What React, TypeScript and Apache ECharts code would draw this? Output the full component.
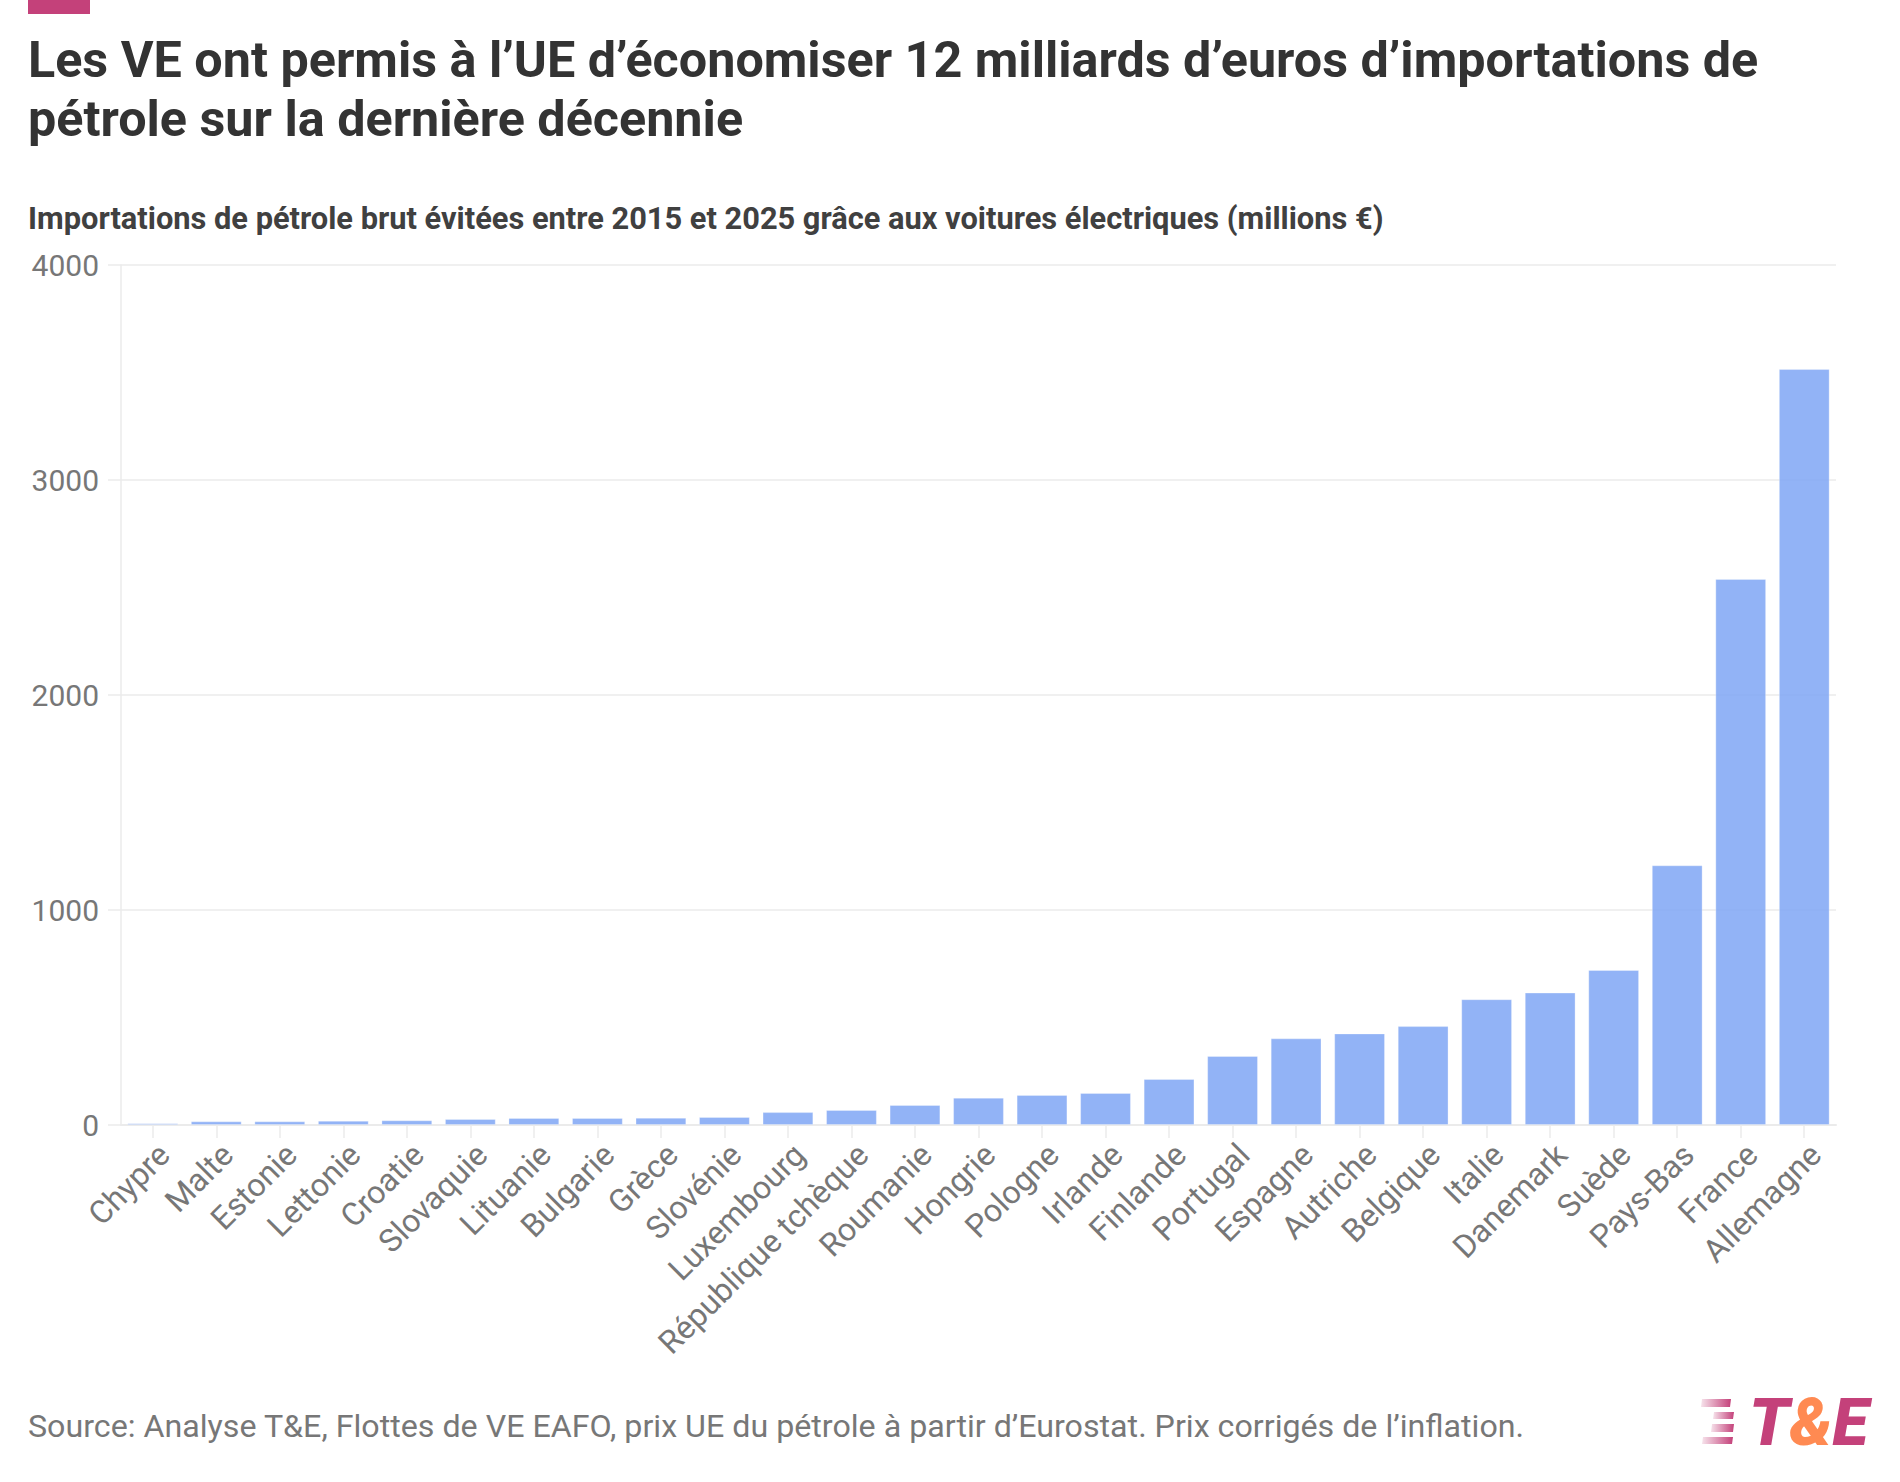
import React, { useEffect, useRef } from "react";
import * as echarts from "echarts";

const categories = [
  "Chypre", "Malte", "Estonie", "Lettonie", "Croatie", "Slovaquie", "Lituanie",
  "Bulgarie", "Grèce", "Slovénie", "Luxembourg", "République tchèque", "Roumanie",
  "Hongrie", "Pologne", "Irlande", "Finlande", "Portugal", "Espagne", "Autriche",
  "Belgique", "Italie", "Danemark", "Suède", "Pays-Bas", "France", "Allemagne",
];
const values = [
  8, 17, 17, 20, 22, 28, 33, 33, 34, 37, 60, 70, 93, 127, 140, 149, 214, 321,
  403, 426, 460, 585, 616, 721, 1208, 2540, 3516,
];
const yTicks = { min: 0, max: 4000, interval: 1000 };

const titleLines = [
  "Les VE ont permis à l’UE d’économiser 12 milliards d’euros d’importations de",
  "pétrole sur la dernière décennie",
];
const subtitle =
  "Importations de pétrole brut évitées entre 2015 et 2025 grâce aux voitures électriques (millions €)";
const source =
  "Source: Analyse T&E, Flottes de VE EAFO, prix UE du pétrole à partir d’Eurostat. Prix corrigés de l’inflation.";

const PINK = "#c4417a";
const ORANGE = "#ff8a52";
const GRID = "#ebebeb";
const LABEL = "#777777";

function stripe(pts: number[][]) {
  return {
    type: "polygon",
    shape: { points: pts },
    style: {
      fill: {
        type: "linear",
        x: 0, y: 0, x2: 1, y2: 0,
        colorStops: [
          { offset: 0, color: "rgba(196,65,122,0.15)" },
          { offset: 1, color: PINK },
        ],
      },
    },
  };
}

export default function App() {
  const ref = useRef<HTMLDivElement>(null);
  useEffect(() => {
    document.body.style.margin = "0";
    if (!ref.current) return;
    const chart = echarts.init(ref.current, undefined, { renderer: "svg" });
    chart.setOption({
      animation: false,
      backgroundColor: "#ffffff",
      grid: { left: 121, right: 64, top: 265, bottom: 357, containLabel: false },
      xAxis: {
        type: "category",
        data: categories,
        axisLine: { show: true, lineStyle: { color: GRID, width: 2 } },
        axisTick: { show: true, alignWithLabel: true, length: 13, lineStyle: { color: GRID, width: 1.5 } },
        axisLabel: {
          interval: 0,
          rotate: 45,
          margin: 13,
          verticalAlign: "top",
          color: LABEL,
          fontFamily: "Roboto",
          fontSize: 32,
        },
      },
      yAxis: {
        type: "value",
        min: yTicks.min,
        max: yTicks.max,
        interval: yTicks.interval,
        axisLine: { show: true, lineStyle: { color: GRID, width: 1.5 } },
        axisTick: { show: true, length: 13, lineStyle: { color: GRID, width: 1.5 } },
        splitLine: { show: true, lineStyle: { color: GRID, width: 1.5 } },
        axisLabel: {
          margin: 22,
          color: LABEL,
          fontFamily: "Roboto",
          fontSize: 30,
          formatter: (v: number) => String(v),
        },
      },
      series: [
        {
          type: "bar",
          data: values,
          barCategoryGap: "20%",
          z: 3,
          itemStyle: {
            color: "#7fa6f5",
            opacity: 0.85,
            borderColor: "rgba(255,255,255,0.35)",
            borderWidth: 1,
          },
        },
      ],
      graphic: [
        { type: "rect", shape: { x: 28, y: 0, width: 62, height: 14 }, style: { fill: PINK } },
        {
          type: "text", x: 28, y: 59,
          style: { text: titleLines[0], fill: "#333333", fontFamily: "Roboto", fontWeight: "bold", fontSize: 50.3, align: "left", verticalAlign: "middle" },
        },
        {
          type: "text", x: 28, y: 118,
          style: { text: titleLines[1], fill: "#333333", fontFamily: "Roboto", fontWeight: "bold", fontSize: 50.3, align: "left", verticalAlign: "middle" },
        },
        {
          type: "text", x: 28, y: 218,
          style: { text: subtitle, fill: "#404040", fontFamily: "Roboto", fontWeight: "bold", fontSize: 30.8, align: "left", verticalAlign: "middle" },
        },
        {
          type: "text", x: 28, y: 1426,
          style: { text: source, fill: LABEL, fontFamily: "Roboto", fontSize: 32.2, align: "left", verticalAlign: "middle" },
        },
        stripe([[1702, 1399], [1731, 1399], [1730, 1407], [1701, 1407]]),
        stripe([[1714, 1412], [1734, 1412], [1733, 1419], [1713, 1419]]),
        stripe([[1712, 1424], [1734, 1424], [1733, 1432], [1711, 1432]]),
        stripe([[1703, 1437], [1733, 1437], [1732, 1444], [1702, 1444]]),
        {
          type: "text", x: 1749, y: 1422,
          style: {
            text: "{a|T}{b|&}{a|E}",
            align: "left",
            verticalAlign: "middle",
            rich: {
              a: { fill: PINK, fontFamily: "Roboto", fontWeight: 900, fontStyle: "italic", fontSize: 66 },
              b: { fill: ORANGE, fontFamily: "Roboto", fontWeight: 900, fontStyle: "italic", fontSize: 66 },
            },
          },
        },
      ],
    });
    return () => chart.dispose();
  }, []);
  return <div ref={ref} style={{ width: 1900, height: 1482 }} />;
}
